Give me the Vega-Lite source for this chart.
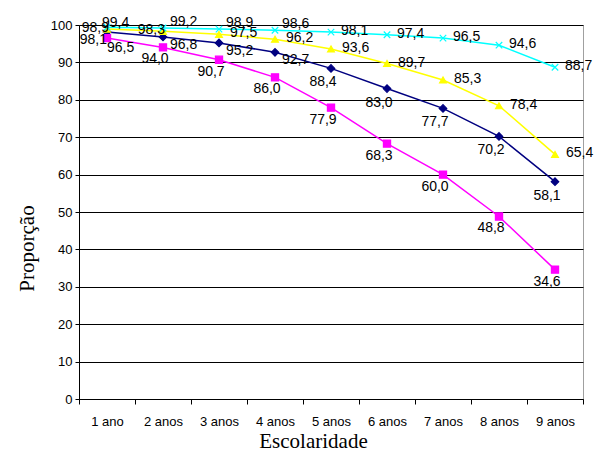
{
  "$schema": "https://vega.github.io/schema/vega-lite/v6.json",
  "width": 504,
  "height": 374,
  "autosize": {"type": "none"},
  "padding": {"left": 79, "top": 25, "right": 12, "bottom": 61},
  "background": "white",
  "config": {
    "locale": {"number": {"decimal": ",", "thousands": ".", "grouping": [3], "currency": ["", ""]}},
    "view": {"stroke": "#a0a0a0", "strokeWidth": 1},
    "font": "Liberation Sans"
  },
  "data": {
    "values": [
      {"serie": "Série 1", "ano": "1 ano", "valor": 98.1},
      {"serie": "Série 1", "ano": "2 anos", "valor": 96.8},
      {"serie": "Série 1", "ano": "3 anos", "valor": 95.2},
      {"serie": "Série 1", "ano": "4 anos", "valor": 92.7},
      {"serie": "Série 1", "ano": "5 anos", "valor": 88.4},
      {"serie": "Série 1", "ano": "6 anos", "valor": 83.0},
      {"serie": "Série 1", "ano": "7 anos", "valor": 77.7},
      {"serie": "Série 1", "ano": "8 anos", "valor": 70.2},
      {"serie": "Série 1", "ano": "9 anos", "valor": 58.1},
      {"serie": "Série 2", "ano": "1 ano", "valor": 96.5},
      {"serie": "Série 2", "ano": "2 anos", "valor": 94.0},
      {"serie": "Série 2", "ano": "3 anos", "valor": 90.7},
      {"serie": "Série 2", "ano": "4 anos", "valor": 86.0},
      {"serie": "Série 2", "ano": "5 anos", "valor": 77.9},
      {"serie": "Série 2", "ano": "6 anos", "valor": 68.3},
      {"serie": "Série 2", "ano": "7 anos", "valor": 60.0},
      {"serie": "Série 2", "ano": "8 anos", "valor": 48.8},
      {"serie": "Série 2", "ano": "9 anos", "valor": 34.6},
      {"serie": "Série 3", "ano": "1 ano", "valor": 98.9},
      {"serie": "Série 3", "ano": "2 anos", "valor": 98.3},
      {"serie": "Série 3", "ano": "3 anos", "valor": 97.5},
      {"serie": "Série 3", "ano": "4 anos", "valor": 96.2},
      {"serie": "Série 3", "ano": "5 anos", "valor": 93.6},
      {"serie": "Série 3", "ano": "6 anos", "valor": 89.7},
      {"serie": "Série 3", "ano": "7 anos", "valor": 85.3},
      {"serie": "Série 3", "ano": "8 anos", "valor": 78.4},
      {"serie": "Série 3", "ano": "9 anos", "valor": 65.4},
      {"serie": "Série 4", "ano": "1 ano", "valor": 99.4},
      {"serie": "Série 4", "ano": "2 anos", "valor": 99.2},
      {"serie": "Série 4", "ano": "3 anos", "valor": 98.9},
      {"serie": "Série 4", "ano": "4 anos", "valor": 98.6},
      {"serie": "Série 4", "ano": "5 anos", "valor": 98.1},
      {"serie": "Série 4", "ano": "6 anos", "valor": 97.4},
      {"serie": "Série 4", "ano": "7 anos", "valor": 96.5},
      {"serie": "Série 4", "ano": "8 anos", "valor": 94.6},
      {"serie": "Série 4", "ano": "9 anos", "valor": 88.7}
    ]
  },
  "encoding": {
    "x": {
      "field": "ano",
      "type": "ordinal",
      "sort": ["1 ano", "2 anos", "3 anos", "4 anos", "5 anos", "6 anos", "7 anos", "8 anos", "9 anos"],
      "scale": {"type": "band", "paddingInner": 0, "paddingOuter": 0},
      "axis": {
        "title": "Escolaridade",
        "titleFont": "Liberation Serif",
        "titleFontSize": 21,
        "titleFontWeight": "normal",
        "titleColor": "black",
        "titleX": 234,
        "titleY": 48,
        "titleBaseline": "alphabetic",
        "labelFont": "Liberation Sans",
        "labelFontSize": 13,
        "labelColor": "black",
        "labelAngle": 0,
        "labelPadding": 11,
        "tickSize": 5,
        "tickColor": "black",
        "domainColor": "black",
        "tickBand": "extent",
        "grid": false
      }
    },
    "y": {
      "field": "valor",
      "type": "quantitative",
      "scale": {"domain": [0, 100], "nice": false},
      "axis": {
        "title": "Proporção",
        "titleFont": "Liberation Serif",
        "titleFontSize": 21,
        "titleFontWeight": "normal",
        "titleColor": "black",
        "titleX": -52,
        "titleY": 223,
        "titleBaseline": "middle",
        "values": [0, 10, 20, 30, 40, 50, 60, 70, 80, 90, 100],
        "labelFont": "Liberation Sans",
        "labelFontSize": 13,
        "labelColor": "black",
        "labelPadding": 3,
        "tickSize": 4,
        "tickColor": "black",
        "domainColor": "black",
        "grid": true,
        "gridColor": "black",
        "gridOpacity": 1
      }
    }
  },
  "layer": [
    {
      "mark": {"type": "line", "strokeWidth": 1.5},
      "encoding": {
        "color": {
          "field": "serie",
          "type": "nominal",
          "scale": {"domain": ["Série 1", "Série 2", "Série 3", "Série 4"], "range": ["#000080", "#FF00FF", "#FFFF00", "#00FFFF"]},
          "legend": null
        }
      }
    },
    {
      "mark": {"type": "point", "filled": true, "opacity": 1, "strokeWidth": 1.2},
      "encoding": {
        "color": {
          "field": "serie",
          "type": "nominal",
          "scale": {"domain": ["Série 1", "Série 2", "Série 3", "Série 4"], "range": ["#000080", "#FF00FF", "#FFFF00", "#00FFFF"]},
          "legend": null
        },
        "stroke": {
          "field": "serie",
          "type": "nominal",
          "scale": {"domain": ["Série 1", "Série 2", "Série 3", "Série 4"], "range": ["#000080", "#FF00FF", "#FFFF00", "#00FFFF"]},
          "legend": null
        },
        "shape": {
          "field": "serie",
          "type": "nominal",
          "scale": {"domain": ["Série 1", "Série 2", "Série 3", "Série 4"], "range": ["diamond", "square", "triangle-up", "M-1,-1L1,1M-1,1L1,-1"]},
          "legend": null
        },
        "size": {
          "field": "serie",
          "type": "nominal",
          "scale": {"domain": ["Série 1", "Série 2", "Série 3", "Série 4"], "range": [56, 42, 90, 64]},
          "legend": null
        }
      }
    },
    {
      "transform": [{"filter": "datum.serie == 'Série 4' && datum.ano == '1 ano'"}],
      "mark": {"type": "text", "align": "left", "dx": -5, "dy": -4, "fontSize": 14, "font": "Liberation Sans", "color": "black"},
      "encoding": {"text": {"field": "valor", "type": "quantitative", "format": ".1f"}}
    },
    {
      "transform": [{"filter": "datum.serie == 'Série 4' && indexof(['2 anos', '3 anos', '4 anos'], datum.ano) >= 0"}],
      "mark": {"type": "text", "align": "left", "dx": 7, "dy": -6, "fontSize": 14, "font": "Liberation Sans", "color": "black"},
      "encoding": {"text": {"field": "valor", "type": "quantitative", "format": ".1f"}}
    },
    {
      "transform": [{"filter": "datum.serie == 'Série 4' && indexof(['5 anos', '6 anos', '7 anos', '8 anos', '9 anos'], datum.ano) >= 0"}],
      "mark": {"type": "text", "align": "left", "dx": 10, "dy": -1, "fontSize": 14, "font": "Liberation Sans", "color": "black"},
      "encoding": {"text": {"field": "valor", "type": "quantitative", "format": ".1f"}}
    },
    {
      "transform": [{"filter": "datum.serie == 'Série 3' && indexof(['1 ano', '2 anos'], datum.ano) >= 0"}],
      "mark": {"type": "text", "align": "right", "dx": 2, "dy": -1, "fontSize": 14, "font": "Liberation Sans", "color": "black"},
      "encoding": {"text": {"field": "valor", "type": "quantitative", "format": ".1f"}}
    },
    {
      "transform": [{"filter": "datum.serie == 'Série 3' && indexof(['1 ano', '2 anos'], datum.ano) < 0"}],
      "mark": {"type": "text", "align": "left", "dx": 11, "dy": -1, "fontSize": 14, "font": "Liberation Sans", "color": "black"},
      "encoding": {"text": {"field": "valor", "type": "quantitative", "format": ".1f"}}
    },
    {
      "transform": [{"filter": "datum.serie == 'Série 1' && datum.ano == '1 ano'"}],
      "mark": {"type": "text", "align": "right", "dx": 0, "dy": 8, "fontSize": 14, "font": "Liberation Sans", "color": "black"},
      "encoding": {"text": {"field": "valor", "type": "quantitative", "format": ".1f"}}
    },
    {
      "transform": [{"filter": "datum.serie == 'Série 1' && indexof(['2 anos', '3 anos', '4 anos'], datum.ano) >= 0"}],
      "mark": {"type": "text", "align": "left", "dx": 7, "dy": 8, "fontSize": 14, "font": "Liberation Sans", "color": "black"},
      "encoding": {"text": {"field": "valor", "type": "quantitative", "format": ".1f"}}
    },
    {
      "transform": [{"filter": "datum.serie == 'Série 1' && indexof(['1 ano', '2 anos', '3 anos', '4 anos'], datum.ano) < 0"}],
      "mark": {"type": "text", "align": "center", "dx": -8, "dy": 14, "fontSize": 14, "font": "Liberation Sans", "color": "black"},
      "encoding": {"text": {"field": "valor", "type": "quantitative", "format": ".1f"}}
    },
    {
      "transform": [{"filter": "datum.serie == 'Série 2' && datum.ano == '1 ano'"}],
      "mark": {"type": "text", "align": "left", "dx": 0, "dy": 10, "fontSize": 14, "font": "Liberation Sans", "color": "black"},
      "encoding": {"text": {"field": "valor", "type": "quantitative", "format": ".1f"}}
    },
    {
      "transform": [{"filter": "datum.serie == 'Série 2' && datum.ano != '1 ano'"}],
      "mark": {"type": "text", "align": "center", "dx": -8, "dy": 12, "fontSize": 14, "font": "Liberation Sans", "color": "black"},
      "encoding": {"text": {"field": "valor", "type": "quantitative", "format": ".1f"}}
    }
  ]
}
